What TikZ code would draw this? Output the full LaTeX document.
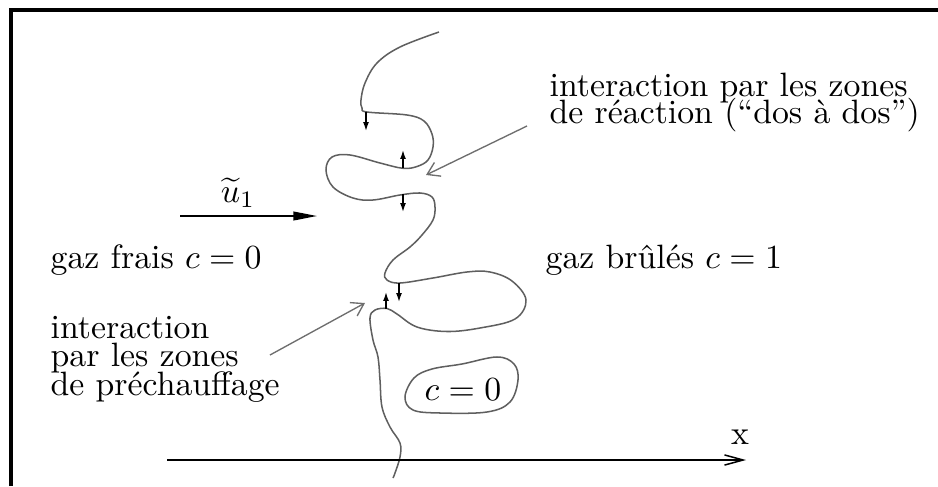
\documentclass[tikz,border=0pt]{standalone}
\usetikzlibrary{arrows.meta}
\definecolor{frontgray}{RGB}{95,95,95}
\definecolor{notegray}{RGB}{110,110,110}
\newcommand{\serre}{\lineskiplimit=-20pt\relax}

\begin{document}
\begin{tikzpicture}[
    x=0.0104cm, y=-0.0104cm,
    frame/.style={draw=black, line width=0.9pt},
    front/.style={draw=frontgray, line width=0.45pt},
    kick/.style={draw=black, line width=0.4pt, -{Latex[length=2.6pt,width=1.7pt]}},
    flow/.style={draw=black, line width=0.45pt, -{Triangle[length=7pt,width=2.6pt]}},
    note/.style={draw=notegray, line width=0.4pt, -{Straight Barb[length=3.5pt,width=4.5pt]}},
    axe/.style={draw=black, line width=0.45pt, -{Straight Barb[length=5.5pt,width=3pt]}},
    lbl/.style={inner sep=0pt, anchor=base west},
    % multi-line labels: base anchor sits on the last line
    blk/.style={inner sep=0pt, anchor=base west, align=left,
                font={\fontsize{10}{#1}\selectfont\serre}},
  ]
  \useasboundingbox (0,0) rectangle (938,486);

  %% ================= frame (only top and left edges show) =================
  \draw[frame] (11,486) -- (11,10) -- (938,10);

  %% ================= the wrinkled flame front =================
  \draw[front] plot[smooth, tension=0.6] coordinates {
    (439,32) (400,47) (377,63) (365,83) (361,100) (362,108) (367,112)
    (407,115) (424,121) (432,134) (433,147) (428,160) (417,166.5) (403,168.3)
    (380,163) (350,155) (332,157) (326,170) (333,187) (353,198) (373,200)
    (400,195) (420,193) (432,197) (435,207) (433,220) (422,235) (410,247)
    (393,260) (385,273) (387,280) (400,283) (433,278) (467,272) (490,272)
    (512,281) (526,300) (515,319) (480,328) (447,331.5) (417,327) (397,314)
    (387,308.5) (375,310) (370,318) (373,340) (378,357) (380,380) (382,407)
    (390,427) (400,443) (400,457) (395,473) (393,478)
  };

  % small arrows: normal of the front on each side
  \foreach \n/\x/\ya/\yb in {1/366/112/131, 2/403/168/150, 3/403/194/212,
                             4/386/309/292, 5/399/283/302} {
    \coordinate (k\n a) at (\x,\ya);
    \coordinate (k\n b) at (\x,\yb);
    \draw[kick] (k\n a) -- (k\n b);
  }

  % pocket of fresh gas left behind
  \node (poche) at (463,390) {$c=0$};
  \draw[front] plot[smooth cycle, tension=0.6] coordinates {
    (405,397) (414,378) (432,369) (462,364) (497,357) (514,364) (518,380)
    (510,402) (487,412) (440,413) (413,410)
  };

  %% ================= incoming flow =================
  \coordinate (ua) at (180,216);
  \coordinate (ub) at (317,216);
  \draw[flow] (ua) -- (ub);
  \node (vitesse) at (238,193) {$\widetilde{u}_1$};

  %% ================= labels =================
  \node[lbl] (frais)  at (50,268)  {gaz frais $c=0$};
  \node[lbl] (brules) at (545,268) {gaz brûlés $c=1$};

  \node[blk=7.8] (dos) at (549,123) {interaction par les zones\\de réaction (``dos à dos'')};
  \node[blk=8.4] (prechauf) at (50,395) {interaction\\par les zones\\de préchauffage};

  \coordinate (dosA) at (527,126);
  \coordinate (dosB) at (426,175);
  \draw[note] (dosA) -- (dosB);

  \coordinate (preA) at (270,355);
  \coordinate (preB) at (365,303);
  \draw[note] (preA) -- (preB);

  %% ================= x axis =================
  \coordinate (xa) at (167,460);
  \coordinate (xb) at (746,460);
  \draw[axe] (xa) -- (xb);
  \node (xlab) at (740,437) {x};

\end{tikzpicture}
\end{document}
